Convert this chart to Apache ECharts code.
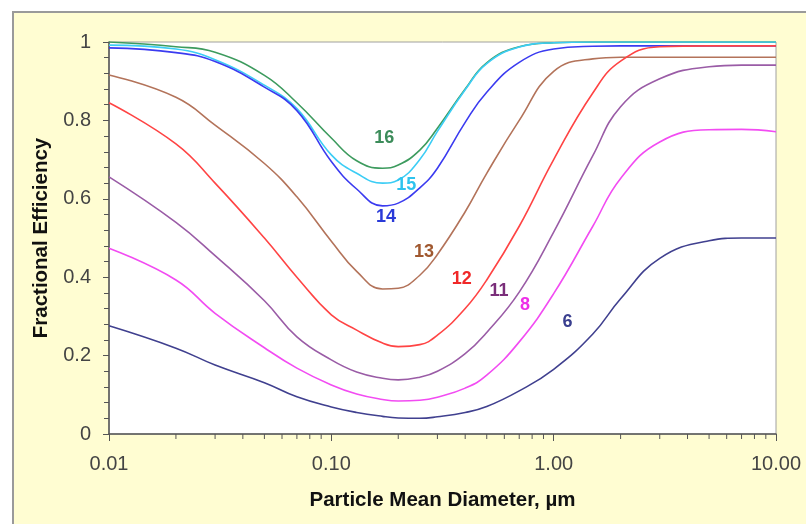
<!DOCTYPE html>
<html>
<head>
<meta charset="utf-8">
<script src="https://cdn.jsdelivr.net/npm/echarts@6/dist/echarts.min.js"></script>
<style>
html,body{margin:0;padding:0;background:#fff;}
#c{width:806px;height:524px;}
</style>
</head>
<body>
<div id="c"></div>
<script>
// Particle diameters (µm)
const diameters = [0.01, 0.02, 0.03, 0.05, 0.07, 0.1, 0.13, 0.17, 0.2, 0.25, 0.3, 0.4, 0.5, 0.7, 1, 1.5, 2, 3, 5, 7, 10];

const eff16 = [1.0, 0.988, 0.974, 0.915, 0.845, 0.755, 0.697, 0.678, 0.686, 0.724, 0.780, 0.880, 0.947, 0.988, 0.998, 1.0, 1.0, 1.0, 1.0, 1.0, 1.0];
const eff15 = [0.992, 0.982, 0.955, 0.890, 0.830, 0.712, 0.665, 0.640, 0.648, 0.700, 0.772, 0.878, 0.945, 0.987, 0.998, 1.0, 1.0, 1.0, 1.0, 1.0, 1.0];
const eff14 = [0.985, 0.973, 0.950, 0.885, 0.825, 0.695, 0.625, 0.582, 0.589, 0.628, 0.678, 0.795, 0.872, 0.948, 0.982, 0.989, 0.990, 0.990, 0.990, 0.990, 0.990];
const eff13 = [0.916, 0.859, 0.788, 0.690, 0.605, 0.492, 0.415, 0.370, 0.372, 0.405, 0.458, 0.567, 0.665, 0.800, 0.925, 0.957, 0.961, 0.961, 0.961, 0.961, 0.961];
const eff12 = [0.845, 0.740, 0.640, 0.500, 0.400, 0.304, 0.265, 0.232, 0.223, 0.228, 0.252, 0.320, 0.393, 0.530, 0.700, 0.870, 0.951, 0.988, 0.990, 0.990, 0.990];
const eff11 = [0.656, 0.540, 0.455, 0.340, 0.248, 0.189, 0.158, 0.142, 0.138, 0.145, 0.160, 0.205, 0.259, 0.362, 0.515, 0.710, 0.835, 0.906, 0.937, 0.941, 0.941];
const eff8  = [0.474, 0.393, 0.308, 0.220, 0.168, 0.125, 0.102, 0.088, 0.084, 0.086, 0.094, 0.117, 0.150, 0.235, 0.358, 0.530, 0.652, 0.745, 0.776, 0.777, 0.771];
const eff6  = [0.276, 0.219, 0.176, 0.131, 0.095, 0.069, 0.055, 0.045, 0.041, 0.040, 0.044, 0.055, 0.070, 0.110, 0.165, 0.255, 0.345, 0.448, 0.493, 0.500, 0.500];

const seriesNames = ['16', '15', '14', '13', '12', '11', '8', '6'];
const seriesValues = [eff16, eff15, eff14, eff13, eff12, eff11, eff8, eff6];
const seriesColors = ['#3D9B5E', '#3CCDF5', '#3B3BF0', '#B3735A', '#FF4444', '#9A5CA6', '#F24CF2', '#40408F'];
const labelColors  = ['#3C8C5A', '#2EC3EE', '#2A3AD8', '#A0582F', '#F02828', '#7A2E7A', '#EE2EE8', '#3A3F8F'];
// curve label anchor positions (diameter, efficiency)
const labelX = [0.173, 0.217, 0.176, 0.261, 0.386, 0.568, 0.744, 1.153];
const labelY = [0.754, 0.634, 0.553, 0.464, 0.395, 0.365, 0.329, 0.286];

const xTickLabels = {0.01: '0.01', 0.1: '0.10', 1: '1.00', 10: '10.00'};
const yTickLabels = {0: '0', 0.2: '0.2', 0.4: '0.4', 0.6: '0.6', 0.8: '0.8', 1: '1'};
const xMinorTicks = [0.02,0.03,0.04,0.05,0.06,0.07,0.08,0.09,0.2,0.3,0.4,0.5,0.6,0.7,0.8,0.9,2,3,4,5,6,7,8,9];

const FONT = 'Liberation Sans, Arial, sans-serif';
const chart = echarts.init(document.getElementById('c'), null, {renderer: 'canvas'});

const series = seriesNames.map((n, i) => ({
  name: n,
  type: 'line',
  data: diameters.map((d, j) => [d, seriesValues[i][j]]),
  smooth: 0.45,
  showSymbol: false,
  symbol: 'none',
  lineStyle: {color: seriesColors[i], width: 1.6},
  z: 3,
  markPoint: {
    symbol: 'circle',
    symbolSize: 0,
    silent: true,
    data: [{coord: [labelX[i], labelY[i]], value: n}],
    label: {
      show: true, position: 'inside', formatter: n,
      color: labelColors[i], fontSize: 18, fontWeight: 'bold', fontFamily: FONT
    }
  }
}));

series.push({
  type: 'custom',
  coordinateSystem: 'cartesian2d',
  clip: false,
  silent: true,
  z: 5,
  data: xMinorTicks.map(v => [v, 0]),
  renderItem: function (params, api) {
    const p = api.coord([api.value(0), 0]);
    return {type: 'line', shape: {x1: p[0], y1: p[1], x2: p[0], y2: p[1] + 5},
            style: {stroke: '#555', lineWidth: 1}};
  }
});

chart.setOption({
  animation: false,
  backgroundColor: '#fff',
  graphic: [{
    type: 'rect', left: 12, top: 11, z: -10,
    shape: {width: 830, height: 560},
    style: {fill: '#FFFDD2', stroke: '#9a9a9a', lineWidth: 2}
  }],
  grid: {
    left: 109, top: 42, right: 30, bottom: 90,
    show: true, backgroundColor: '#ffffff', borderColor: '#a0a0a0', borderWidth: 1
  },
  xAxis: {
    type: 'log', logBase: 10, min: 0.01, max: 10,
    name: 'Particle Mean Diameter, µm',
    nameLocation: 'middle', nameGap: 56,
    nameTextStyle: {color: '#111', fontSize: 20.5, fontWeight: 'bold', fontFamily: FONT},
    axisLine: {lineStyle: {color: '#555', width: 1.5}},
    axisTick: {show: true, inside: false, length: 7, lineStyle: {color: '#555'}},
    axisLabel: {
      color: '#444', fontSize: 20, margin: 20, fontFamily: FONT,
      formatter: v => xTickLabels[v] !== undefined ? xTickLabels[v] : (+v).toFixed(2)
    },
    splitLine: {show: false}
  },
  yAxis: {
    type: 'value', min: 0, max: 1, interval: 0.2,
    name: 'Fractional Efficiency',
    nameLocation: 'middle', nameGap: 46, nameRotate: 90,
    nameTextStyle: {color: '#111', fontSize: 20.5, fontWeight: 'bold', fontFamily: FONT},
    axisLine: {show: true, lineStyle: {color: '#555', width: 1.5}},
    axisTick: {show: true, inside: false, length: 6, lineStyle: {color: '#555'}},
    minorTick: {show: true, splitNumber: 5, length: 5, lineStyle: {color: '#555'}},
    axisLabel: {
      color: '#444', fontSize: 20, margin: 18, fontFamily: FONT,
      formatter: v => {
        const k = Math.round(v * 10) / 10;
        return yTickLabels[k] !== undefined ? yTickLabels[k] : String(k);
      }
    },
    splitLine: {show: false},
    minorSplitLine: {show: false}
  },
  series: series
});
</script>
</body>
</html>
